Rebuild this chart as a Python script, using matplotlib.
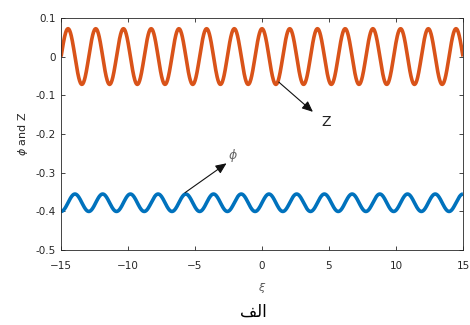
import numpy as np
import matplotlib.pyplot as plt

# values
xi_range = [-15, 15]
n_cycles = 14.5            # full waves across the range
z_amp = 0.072              # Z oscillates around 0
phi_mid = -0.378           # phi centre line
phi_amp = 0.0225

xticks = [-15, -10, -5, 0, 5, 10, 15]
yticks = [-0.5, -0.4, -0.3, -0.2, -0.1, 0, 0.1]
ytick_labels = ['-0.5', '-0.4', '-0.3', '-0.2', '-0.1', '0', '0.1']

xi = np.linspace(xi_range[0], xi_range[1], 1500)
k = 2 * np.pi * n_cycles / (xi_range[1] - xi_range[0])
z = z_amp * np.sin(k * (xi - xi_range[0]))
phi = phi_mid - phi_amp * np.cos(k * (xi - xi_range[0]))

axcol = '#262626'
fig = plt.figure(figsize=(4.7, 3.25), dpi=100)
ax = fig.add_axes([0.13, 0.231, 0.855, 0.714])

ax.plot(xi, z, color='#D95319', lw=2.6, solid_capstyle='butt')
ax.plot(xi, phi, color='#0072BD', lw=2.6, solid_capstyle='butt')

ax.set_xlim(xi_range)
ax.set_ylim(-0.5, 0.1)
ax.set_xticks(xticks)
ax.set_yticks(yticks)
ax.set_yticklabels(ytick_labels)
ax.tick_params(direction='in', length=3, width=0.6, colors=axcol,
               labelsize=7.5, top=True, right=True)
ax.tick_params(axis='x', pad=8)
ax.tick_params(axis='y', pad=4)
for s in ax.spines.values():
    s.set_color(axcol)
    s.set_linewidth(0.6)

ax.set_xlabel(r'$\xi$', fontsize=8, color='#555555', labelpad=7)
ax.set_ylabel(r'$\phi$ and Z', fontsize=8, color=axcol, labelpad=4)

arrow = dict(arrowstyle='-|>,head_length=0.5,head_width=0.22', color='#111111',
             lw=0.8, mutation_scale=13, shrinkA=0, shrinkB=0)
ax.annotate('', xy=(3.8, -0.143), xytext=(1.25, -0.066), arrowprops=arrow)
ax.text(4.75, -0.168, 'Z', fontsize=10, color='#222222',
        ha='center', va='center')
ax.annotate('', xy=(-2.65, -0.276), xytext=(-5.75, -0.352), arrowprops=arrow)
ax.text(-2.2, -0.256, r'$\phi$', fontsize=9, color='#666666',
        ha='center', va='center')

# "الف" written in visual order with contextual forms (no shaping in matplotlib)
fig.text(0.54, 0.04, '\uFED2\uFEDF\u0627', fontsize=12, ha='center',
         va='center', family=['DejaVu Sans'])

fig.savefig('out.png', dpi=100)
